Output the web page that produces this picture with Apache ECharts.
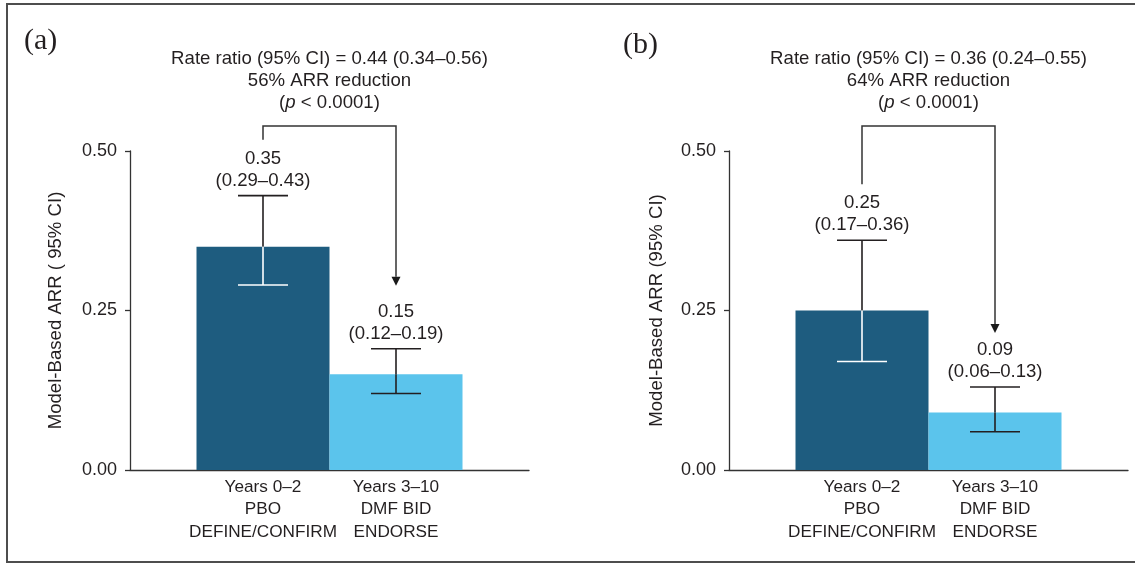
<!DOCTYPE html>
<html><head><meta charset="utf-8">
<script src="https://cdn.jsdelivr.net/npm/echarts@6/dist/echarts.min.js"></script>
<style>html,body{margin:0;padding:0;background:#fff}#c{width:1135px;height:564px}</style>
</head><body><div id="c"></div>
<script>
// ---- data ----
const categories = ['', 'Years 0–2\nPBO\nDEFINE/CONFIRM', 'Years 3–10\nDMF BID\nENDORSE', ''];
const barIndex = [1, 2];
const arrA = [0.35, 0.15];
const lowA = [0.29, 0.12];
const highA = [0.43, 0.19];
const arrB = [0.25, 0.09];
const lowB = [0.17, 0.06];
const highB = [0.36, 0.13];
const yTicks = [0, 0.25, 0.5];
const panelLetters = ['(a)', '(b)'];
const yNames = ['Model-Based ARR ( 95% CI)', 'Model-Based ARR (95% CI)'];
const rateTexts = ['Rate ratio (95% CI) = 0.44 (0.34–0.56)', 'Rate ratio (95% CI) = 0.36 (0.24–0.55)'];
const reductionTexts = ['56% ARR reduction', '64% ARR reduction'];
const pTexts = ['< 0.0001', '< 0.0001'];

// ---- styles ----
const TXT = '#231f20';
const AX = '#333333';
const barColors = ['#1e5c7f', '#5bc4ec'];
const innerColors = ['#ffffff', '#231f20'];
const FONT = '"Liberation Sans", Arial, Helvetica, sans-serif';
const FS = 18;
const FS_ANN = 18.6;
const FS_X = 17.2;
const grids = [
  {left: 130, top: 151, width: 399, height: 319},
  {left: 729, top: 151, width: 399, height: 319}
];
const tipOffsets = [63, 54];
const nameGaps = [65, 63];

const panels = [
  {arr: arrA, low: lowA, high: highA},
  {arr: arrB, low: lowB, high: highB}
];

function errRender(params, api) {
  const c = api.value(0), v = api.value(1), lo = api.value(2), hi = api.value(3), k = api.value(4);
  const pV = api.coord([c, v]), pL = api.coord([c, lo]), pH = api.coord([c, hi]);
  const x = pV[0], hw = 25;
  const inner = innerColors[k];
  const lw = 1.6;
  return {
    type: 'group',
    children: [
      {type: 'line', shape: {x1: x, y1: pH[1], x2: x, y2: pV[1]}, style: {stroke: TXT, lineWidth: lw}},
      {type: 'line', shape: {x1: x, y1: pV[1], x2: x, y2: pL[1]}, style: {stroke: inner, lineWidth: lw}},
      {type: 'line', shape: {x1: x - hw, y1: pH[1], x2: x + hw, y2: pH[1]}, style: {stroke: TXT, lineWidth: lw}},
      {type: 'line', shape: {x1: x - hw, y1: pL[1], x2: x + hw, y2: pL[1]}, style: {stroke: lo < v ? inner : TXT, lineWidth: lw}},
      {type: 'text', style: {
        x: x, y: pH[1] - 4, align: 'center', verticalAlign: 'bottom',
        text: v.toFixed(2) + '\n(' + lo.toFixed(2) + '–' + hi.toFixed(2) + ')',
        font: FS_ANN + 'px ' + FONT, lineHeight: 22, fill: TXT
      }}
    ]
  };
}

function bracketRender(params, api) {
  const c1 = api.value(0), c2 = api.value(1), h1 = api.value(2), h2 = api.value(3), k = api.value(4);
  const top = api.coord([c1, yTicks[yTicks.length - 1]])[1] - 25;
  const p1 = api.coord([c1, h1]), p2 = api.coord([c2, h2]);
  const yb = p1[1] - 56;
  const tip = p2[1] - tipOffsets[k];
  const ah = 9, aw = 4.5;
  return {
    type: 'group',
    children: [
      {type: 'polyline', shape: {points: [[p1[0], yb], [p1[0], top], [p2[0], top], [p2[0], tip - ah]]},
        style: {stroke: AX, lineWidth: 1.5, fill: null}},
      {type: 'polygon', shape: {points: [[p2[0], tip], [p2[0] - aw, tip - ah], [p2[0] + aw, tip - ah]]},
        style: {fill: '#1a1a1a'}}
    ]
  };
}

const xAxes = [], yAxes = [], series = [], graphics = [];
grids.forEach((g, k) => {
  xAxes.push({
    type: 'category', gridIndex: k, data: categories, boundaryGap: false,
    axisTick: {show: false},
    axisLine: {lineStyle: {color: AX, width: 1.3}},
    axisLabel: {interval: 0, margin: 6, color: TXT, fontSize: FS_X, fontFamily: FONT, lineHeight: 22.5}
  });
  yAxes.push({
    type: 'value', gridIndex: k, min: yTicks[0], max: yTicks[yTicks.length - 1], interval: 0.25,
    splitLine: {show: false},
    axisLine: {show: true, lineStyle: {color: AX, width: 1.3}},
    axisTick: {show: true, length: 5, lineStyle: {color: AX, width: 1.3}},
    axisLabel: {margin: 13, color: TXT, fontSize: FS, fontFamily: FONT, formatter: v => v.toFixed(2)},
    name: yNames[k], nameLocation: 'middle', nameRotate: 90, nameGap: nameGaps[k],
    nameTextStyle: {color: TXT, fontSize: FS_ANN, fontFamily: FONT}
  });
  const P = panels[k];
  const barData = categories.map(() => '-');
  barIndex.forEach((c, i) => { barData[c] = {value: P.arr[i], itemStyle: {color: barColors[i]}}; });
  series.push({
    type: 'bar', xAxisIndex: k, yAxisIndex: k, data: barData, barWidth: '100%', silent: true,
    animation: false
  });
  series.push({
    type: 'custom', xAxisIndex: k, yAxisIndex: k, renderItem: errRender, clip: false, silent: true,
    animation: false, z: 5,
    data: barIndex.map((c, i) => [c, P.arr[i], P.low[i], P.high[i], i])
  });
  series.push({
    type: 'custom', xAxisIndex: k, yAxisIndex: k, renderItem: bracketRender, clip: false, silent: true,
    animation: false, z: 5,
    data: [[barIndex[0], barIndex[1], P.high[0], P.high[1], k]]
  });
  const cx = g.left + g.width / 2;
  graphics.push({
    type: 'text', x: cx, y: 48, silent: true,
    style: {
      text: rateTexts[k] + '\n' + reductionTexts[k] + '\n({i|p} ' + pTexts[k] + ')',
      align: 'center', verticalAlign: 'top', lineHeight: 22, fill: TXT,
      font: FS_ANN + 'px ' + FONT,
      rich: {i: {fontStyle: 'italic', fontSize: FS_ANN, fontFamily: FONT, fill: TXT, lineHeight: 22}}
    }
  });
});
graphics.push({type: 'text', x: 24, y: 41, silent: true,
  style: {text: panelLetters[0], font: '30px "Liberation Serif", "Times New Roman", serif', fill: TXT, verticalAlign: 'middle'}});
graphics.push({type: 'text', x: 623, y: 45, silent: true,
  style: {text: panelLetters[1], font: '30px "Liberation Serif", "Times New Roman", serif', fill: TXT, verticalAlign: 'middle'}});
graphics.push({type: 'rect', shape: {x: 7, y: 4, width: 1140, height: 558}, silent: true,
  style: {fill: null, stroke: '#4d4d4d', lineWidth: 2}});

const chart = echarts.init(document.getElementById('c'), null, {renderer: 'canvas'});
chart.setOption({
  animation: false,
  backgroundColor: '#ffffff',
  grid: grids.map(g => Object.assign({containLabel: false}, g)),
  xAxis: xAxes,
  yAxis: yAxes,
  series: series,
  graphic: graphics
});
</script></body></html>
